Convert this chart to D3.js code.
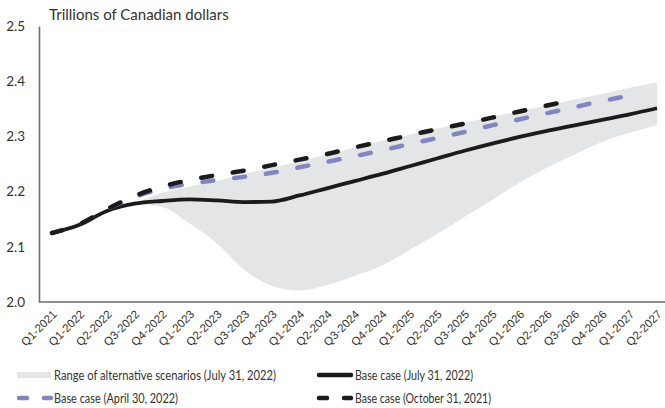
<!DOCTYPE html>
<html>
<head>
<meta charset="utf-8">
<script src="https://cdn.jsdelivr.net/npm/d3@7"></script>
<style>
  html, body { margin: 0; padding: 0; background: #fff; }
  svg { display: block; font-family: Lato, "Open Sans", sans-serif; }
</style>
</head>
<body>
<svg id="chart" width="665" height="408"></svg>
<script>
// ---------------- DATA ----------------
const categories = ["Q1-2021","Q1-2022","Q2-2022","Q3-2022","Q4-2022","Q1-2023","Q2-2023","Q3-2023","Q4-2023",
  "Q1-2024","Q2-2024","Q3-2024","Q4-2024","Q1-2025","Q2-2025","Q3-2025","Q4-2025",
  "Q1-2026","Q2-2026","Q3-2026","Q4-2026","Q1-2027","Q2-2027"];

const baseJuly2022 = [2.125,2.140,2.165,2.178,2.183,2.186,2.184,2.181,2.182,
  2.193,2.206,2.219,2.232,2.246,2.260,2.274,2.287,2.299,2.310,2.320,2.330,2.340,2.351];

const baseApril2022 = [2.125,2.141,2.168,2.190,2.205,2.214,2.221,2.227,2.234,
  2.244,2.254,2.264,2.275,2.286,2.297,2.308,2.320,2.331,2.342,2.353,2.364,2.374,null];

const baseOct2021 = [2.125,2.141,2.168,2.192,2.209,2.221,2.230,2.238,2.248,
  2.258,2.268,2.280,2.291,2.302,2.313,2.323,2.334,2.345,2.356,2.366,null,null,null];

const rangeLow = [null,null,null,2.178,2.172,2.142,2.106,2.058,2.029,
  2.021,2.031,2.047,2.066,2.094,2.123,2.154,2.185,2.216,2.243,2.267,2.290,2.306,2.320];

const rangeHigh = [null,null,null,2.178,2.198,2.209,2.219,2.232,2.243,
  2.255,2.267,2.280,2.292,2.303,2.314,2.325,2.335,2.346,2.356,2.367,2.377,2.388,2.398];

const yTicks = [2.0, 2.1, 2.2, 2.3, 2.4, 2.5];
const yTitle = "Trillions of Canadian dollars";
const legendLabels = [
  "Range of alternative scenarios (July 31, 2022)",
  "Base case (July 31, 2022)",
  "Base case (April 30, 2022)",
  "Base case (October 31, 2021)"
];

// ---------------- STYLE ----------------
const C = { band: "#e4e5e7", black: "#1b1b1b", blue: "#8186c1", axis: "#6d6d6d", text: "#333" };

const svg = d3.select("#chart");
const x = d3.scalePoint().domain(categories).range([52, 657]);
const y = d3.scaleLinear().domain([2.0, 2.5]).range([302, 26]);

// band
const idx = categories.map((c, i) => i);
const area = d3.area()
  .defined(i => rangeLow[i] != null && rangeHigh[i] != null)
  .x(i => x(categories[i]))
  .y0(i => y(rangeLow[i]))
  .y1(i => y(rangeHigh[i]))
  .curve(d3.curveMonotoneX);
svg.append("path").attr("d", area(idx)).attr("fill", C.band);

// axes
const yAxis = d3.axisLeft(y).tickValues(yTicks).tickFormat(d3.format(".1f")).tickSize(0).tickPadding(14);
const gy = svg.append("g").attr("transform", "translate(39,0)").call(yAxis);
gy.select(".domain").attr("stroke", C.axis).attr("stroke-width", 1.6);
gy.selectAll("text").attr("font-size", 13.5).attr("fill", C.text).attr("font-family", "Lato, sans-serif");

svg.append("line").attr("x1", 39).attr("x2", 665).attr("y1", y(2.0)).attr("y2", y(2.0))
  .attr("stroke", C.axis).attr("stroke-width", 1.6);

const xAxis = d3.axisBottom(x).tickSize(0).tickPadding(0);
const gx = svg.append("g").attr("transform", `translate(0,${y(2.0)})`).call(xAxis);
gx.select(".domain").remove();
gx.selectAll("text")
  .attr("text-anchor", "end")
  .attr("font-size", 11.5)
  .attr("fill", C.text)
  .attr("dy", 0)
  .attr("y", 0)
  .attr("transform", "translate(5,13) rotate(-45)");

// lines
function lineFor(arr) {
  return d3.line()
    .defined(i => arr[i] != null)
    .x(i => x(categories[i]))
    .y(i => y(arr[i]))
    .curve(d3.curveMonotoneX)(idx);
}

svg.append("path").attr("d", lineFor(baseJuly2022)).attr("fill", "none")
  .attr("stroke", C.black).attr("stroke-width", 3.8).attr("stroke-linejoin", "round");
svg.append("path").attr("d", lineFor(baseApril2022)).attr("fill", "none")
  .attr("stroke", C.blue).attr("stroke-width", 4.5).attr("stroke-linecap", "round")
  .attr("stroke-dasharray", "11,21").attr("stroke-dashoffset", 0);
svg.append("path").attr("d", lineFor(baseOct2021)).attr("fill", "none")
  .attr("stroke", C.black).attr("stroke-width", 4.5).attr("stroke-linecap", "round")
  .attr("stroke-dasharray", "11,21").attr("stroke-dashoffset", 0);

// title
svg.append("text").attr("x", 49).attr("y", 20).attr("font-size", 15).attr("fill", C.text)
  .text(yTitle);

// legend
const legend = svg.append("g");
const lx1 = 17, lx2 = 317, ly1 = 375, ly2 = 398;
legend.append("rect").attr("x", lx1).attr("y", ly1 - 3).attr("width", 34).attr("height", 6).attr("fill", C.band);
legend.append("line").attr("x1", lx2 + 2).attr("x2", lx2 + 34).attr("y1", ly1).attr("y2", ly1)
  .attr("stroke", C.black).attr("stroke-width", 4.5).attr("stroke-linecap", "round");
legend.append("line").attr("x1", lx1 + 2).attr("x2", lx1 + 34).attr("y1", ly2).attr("y2", ly2)
  .attr("stroke", C.blue).attr("stroke-width", 4.5).attr("stroke-linecap", "round")
  .attr("stroke-dasharray", "8,17");
legend.append("line").attr("x1", lx2 + 2).attr("x2", lx2 + 34).attr("y1", ly2).attr("y2", ly2)
  .attr("stroke", C.black).attr("stroke-width", 4.5).attr("stroke-linecap", "round")
  .attr("stroke-dasharray", "8,17");

const legPos = [[lx1 + 37, ly1, 222], [lx2 + 38, ly1, 118], [lx1 + 37, ly2, 124], [lx2 + 38, ly2, 136]];
legendLabels.forEach((t, i) => {
  const el = legend.append("text").attr("x", legPos[i][0]).attr("y", legPos[i][1] + 4.5)
    .attr("font-size", 13).attr("fill", C.text).text(t);
  el.attr("textLength", legPos[i][2]).attr("lengthAdjust", "spacingAndGlyphs");
});
</script>
</body>
</html>
